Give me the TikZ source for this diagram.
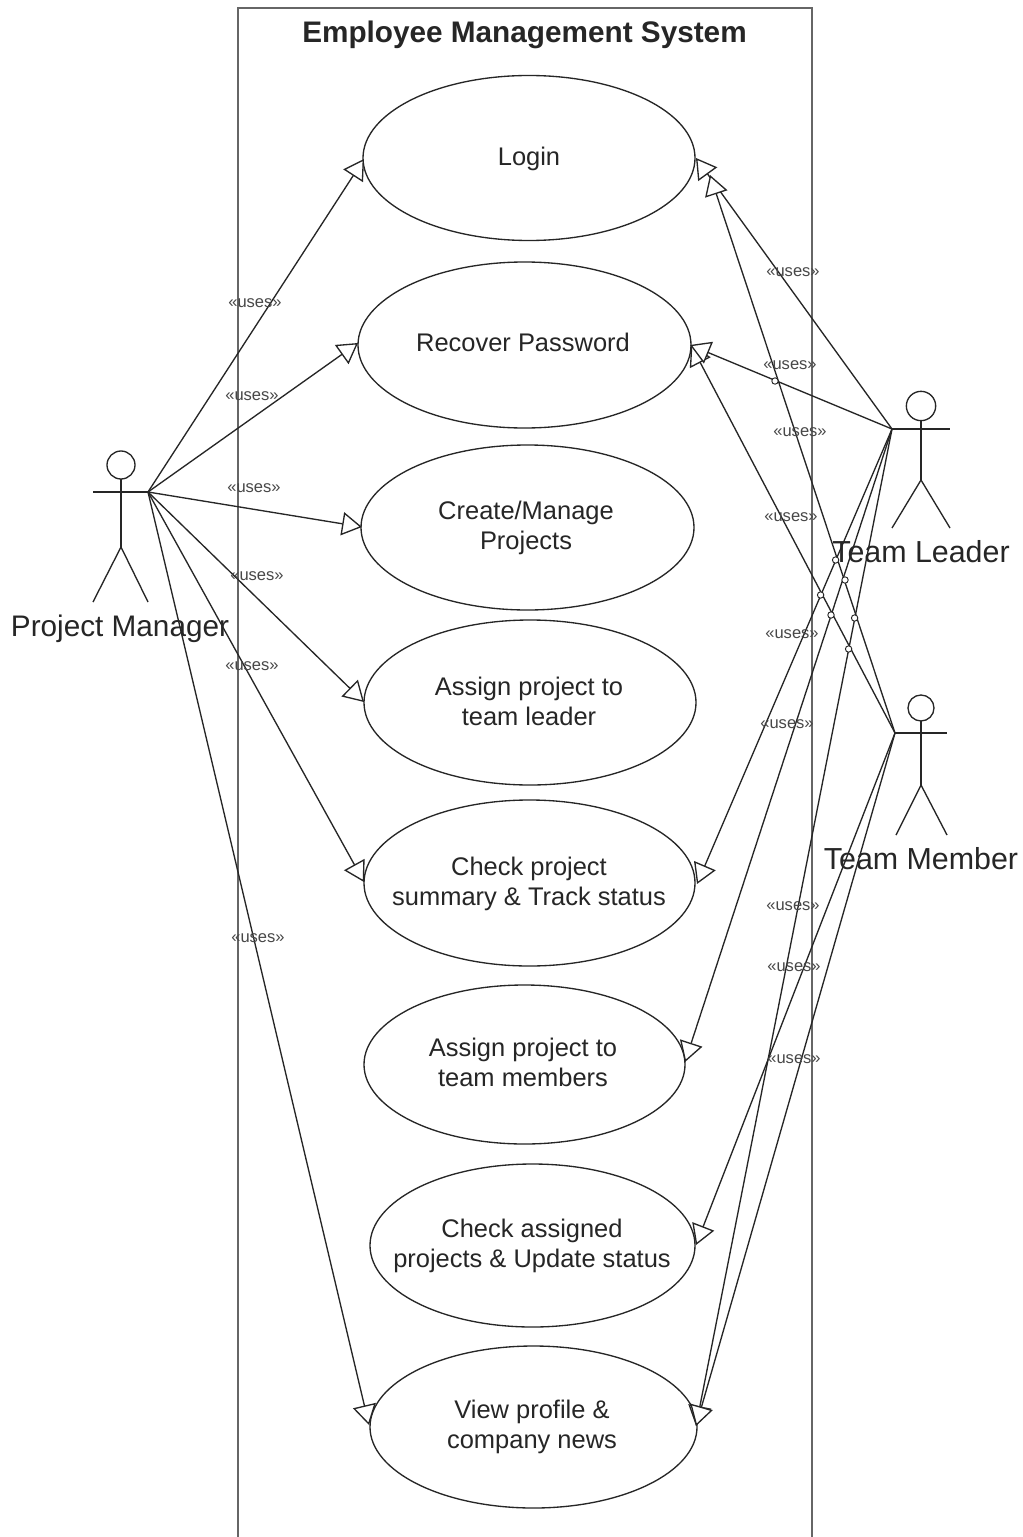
\documentclass[tikz,border=0pt]{standalone}
\usepackage{fontspec}
\setmainfont{Liberation Sans}
\usetikzlibrary{arrows.meta,shapes.geometric}
\definecolor{ink}{HTML}{262626}
\tikzset{
  x=0.75pt,y=-0.75pt,
  ucshape/.style={draw=ink,ellipse,line width=1pt,fill=white,inner sep=0pt},
  uctext/.style={align=center,inner sep=0pt,font=\fontsize{19.1}{22.6}\selectfont,text=ink},
  link/.style={draw=ink,line width=1pt,-{Triangle[open,length=15pt,width=17.5pt,fill=white]}},
  stick/.style={draw=ink,line width=1pt},
  boxline/.style={draw=black!60,line width=1.4pt},
  uses/.style={font=\fontsize{12.4}{14}\selectfont,text=ink!85,inner sep=0pt},
  actorname/.style={font=\fontsize{22.3}{26}\selectfont,text=ink,inner sep=0pt},
  teamname/.style={font=\fontsize{22.8}{26}\selectfont,text=ink,inner sep=0pt},
  jumpmark/.style={draw=ink,fill=white,line width=0.7pt},
}
% name, cx, cy, w, h, textx, texty, text
\newcommand{\ucase}[8]{%
  \node[ucshape,minimum width=#4*0.75pt,minimum height=#5*0.75pt] (#1) at (#2,#3) {};
  \node[uctext] (#1t) at (#6,#7) {#8};
}
\begin{document}
\begin{tikzpicture}
\useasboundingbox (0,0) rectangle (1023,1537);
\fill[white] (0,0) rectangle (1023,1537);
% system box
\coordinate (bl) at (238,1537); \coordinate (tl) at (238,8);
\coordinate (tr) at (812,8); \coordinate (br) at (812,1537);
\draw[boxline] (bl) -- (tl) -- (tr) -- (br);
\node[font=\fontsize{22.3}{26}\bfseries\selectfont,text=ink,inner sep=0pt] (title) at (524.5,35) {Employee Management System};
% use cases
\ucase{login}{529}{158}{332}{165}{529}{159}{Login}
\ucase{recover}{524.5}{345}{333}{166}{523}{342}{Recover Password}
\ucase{create}{527.5}{527.5}{333}{165}{526}{527.5}{Create/Manage\\Projects}
\ucase{assignl}{530}{702.5}{332}{165}{529}{701.5}{Assign project to\\team leader}
\ucase{check}{529.5}{883}{331}{166}{529}{883.5}{Check project\\summary \& Track status}
\ucase{assignm}{524.5}{1064.5}{321}{159}{523}{1062.5}{Assign project to\\team members}
\ucase{assigned}{532.5}{1245.5}{325}{163}{532}{1245.5}{Check assigned\\projects \& Update status}
\ucase{view}{533.5}{1427}{327}{162}{532}{1426.5}{View profile \&\\company news}
% actors
\coordinate (pmhand) at (148,492);
\coordinate (tlhand) at (892,429);
\coordinate (tmhand) at (895,733);
\draw[stick] (121,465) circle [radius=10.5pt];
\draw[stick] (121,479) -- (121,547);
\draw[stick] (93,492) -- (pmhand);
\draw[stick] (93,602) -- (121,547) -- (148,602);
\draw[stick] (921,406) circle [radius=11pt];
\draw[stick] (921,421) -- (921,480);
\draw[stick] (tlhand) -- (950,429);
\draw[stick] (892,528) -- (921,480) -- (950,528);
\draw[stick] (921,708) circle [radius=9.75pt];
\draw[stick] (921,721) -- (921,785);
\draw[stick] (tmhand) -- (947,733);
\draw[stick] (896,835) -- (921,785) -- (947,835);
% arrow tips on the use cases
\coordinate (pa) at (364,159);
\coordinate (pb) at (358,343);
\coordinate (pc) at (362,527);
\coordinate (pd) at (364,702);
\coordinate (pe) at (364,882);
\coordinate (pf) at (369,1425);
\coordinate (la) at (696,158);
\coordinate (lb) at (690,345);
\coordinate (lc) at (697,884);
\coordinate (ld) at (685,1062);
\coordinate (le) at (696,1426);
\coordinate (ma) at (710,175);
\coordinate (mb) at (691,345);
\coordinate (mc) at (696,1245);
\coordinate (md) at (696,1426);
% connectors
\draw[link] (pmhand) -- (pa);
\draw[link] (pmhand) -- (pb);
\draw[link] (pmhand) -- (pc);
\draw[link] (pmhand) -- (pd);
\draw[link] (pmhand) -- (pe);
\draw[link] (pmhand) -- (pf);
\draw[link] (tlhand) -- (la);
\draw[link] (tmhand) -- (ma);
\draw[link] (tmhand) -- (mb);
\draw[link] (tlhand) -- (lb);
\draw[link] (tlhand) -- (lc);
\draw[link] (tlhand) -- (ld);
\draw[link] (tmhand) -- (mc);
\draw[link] (tlhand) -- (le);
\draw[link] (tmhand) -- (md);
% line jumps
\foreach \jx/\jy in {775/381,835.6/560,845/580,820.6/595,854.6/618,831/615,848.6/649}
  \draw[jumpmark] (\jx,\jy) circle [radius=2.4pt];
% labels
\node[actorname] (pmname) at (120,629) {Project Manager};
\node[teamname] (tlname) at (921,552) {Team Leader};
\node[teamname] (tmname) at (921,859) {Team Member};
\node[uses] (u1) at (255,303) {«uses»};
\node[uses] (u2) at (252,396) {«uses»};
\node[uses] (u3) at (254,488) {«uses»};
\node[uses] (u4) at (257,576) {«uses»};
\node[uses] (u5) at (252,666) {«uses»};
\node[uses] (u6) at (258,938) {«uses»};
\node[uses] (u7) at (793,272) {«uses»};
\node[uses] (u8) at (790,365) {«uses»};
\node[uses] (u9) at (800,432) {«uses»};
\node[uses] (u10) at (791,517) {«uses»};
\node[uses] (u11) at (792,634) {«uses»};
\node[uses] (u12) at (787,724) {«uses»};
\node[uses] (u13) at (793,906) {«uses»};
\node[uses] (u14) at (794,967) {«uses»};
\node[uses] (u15) at (794,1059) {«uses»};
\end{tikzpicture}
\end{document}
